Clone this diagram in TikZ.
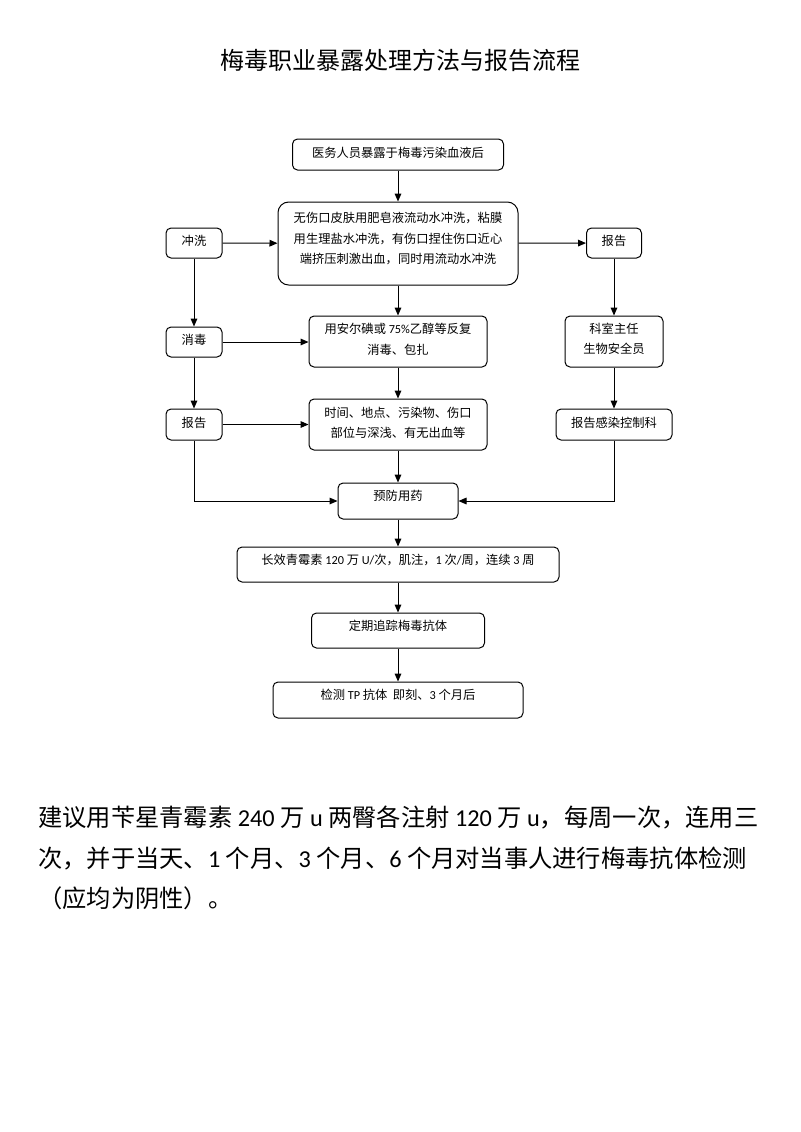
\documentclass[tikz,border=0pt]{standalone}
\usepackage{fontspec}
\setmainfont{Noto Sans CJK SC}
\newfontfamily\lat{Carlito}
\usetikzlibrary{arrows.meta}
\begin{document}
\begin{tikzpicture}[x=0.75pt,y=-0.75pt,
  bx/.style={draw, line width=0.75pt, rounded corners=3.75pt, inner sep=0pt},
  tx/.style={font=\fontsize{9.2}{15.4}\selectfont, align=center, inner sep=0pt},
  para/.style={font=\fontsize{18.2}{24}\selectfont, anchor=west, inner sep=0pt},
  arr/.style={-{Triangle[length=6pt,width=5pt]}, line width=0.75pt}]
\useasboundingbox (0,0) rectangle (800,1132);
\fill[white] (0,0) rectangle (800,1132);

% title
\node[font=\fontsize{18}{21}\selectfont, inner sep=0pt] (title) at (400,60) {梅毒职业暴露处理方法与报告流程};

% boxes
\node[bx, minimum width=158.25pt, minimum height=23.25pt] (top) at (398,154.5) {};
\node[tx] at (398,152.5) {医务人员暴露于梅毒污染血液后};

\node[bx, rounded corners=8pt, minimum width=180pt, minimum height=62.25pt] (big) at (398,243.5) {};
\node[tx] at (398,238.5) {无伤口皮肤用肥皂液流动水冲洗，粘膜\\用生理盐水冲洗，有伤口捏住伤口近心\\端挤压刺激出血，同时用流动水冲洗};

\node[bx, minimum width=42pt, minimum height=22.5pt] (chong) at (194,243) {};
\node[tx] at (194,241) {冲洗};

\node[bx, minimum width=41.25pt, minimum height=22.5pt] (bgR) at (614,243) {};
\node[tx] at (614,241) {报告};

\node[bx, minimum width=42pt, minimum height=22.5pt] (xiaodu) at (194,342) {};
\node[tx] at (194,340) {消毒};

\node[bx, minimum width=133.5pt, minimum height=38.25pt] (yong) at (398,341.5) {};
\node[tx] at (398,339.5) {用安尔碘或 {\lat 75\%}乙醇等反复\\消毒、包扎};

\node[bx, minimum width=73.5pt, minimum height=38.25pt] (keshi) at (614,341.5) {};
\node[tx] at (614,339) {科室主任\\生物安全员};

\node[bx, minimum width=42pt, minimum height=23.25pt] (bgL) at (194,424.5) {};
\node[tx] at (194,422.5) {报告};

\node[bx, minimum width=133.5pt, minimum height=38.25pt] (shijian) at (398,424.5) {};
\node[tx] at (398,423) {时间、地点、污染物、伤口\\部位与深浅、有无出血等};

\node[bx, minimum width=87pt, minimum height=23.25pt] (ganran) at (614,424.5) {};
\node[tx] at (614,422.5) {报告感染控制科};

\node[bx, minimum width=90pt, minimum height=27pt] (yufang) at (398,501) {};
\node[tx] at (398,495.5) {预防用药};

\node[bx, minimum width=241.5pt, minimum height=26.25pt] (changxiao) at (398,564.5) {};
\node[tx] at (398,560) {长效青霉素 {\lat 120} 万 {\lat U/}次，肌注，{\lat 1} 次{\lat /}周，连续 {\lat 3} 周};

\node[bx, minimum width=129.75pt, minimum height=26.25pt] (dingqi) at (398,630.5) {};
\node[tx] at (398,626) {定期追踪梅毒抗体};

\node[bx, minimum width=187.5pt, minimum height=27pt] (jiance) at (398,700) {};
\node[tx] at (398,694.5) {检测 {\lat TP} 抗体 \ 即刻、{\lat 3} 个月后};

% connectors
\draw[arr] (top) -- (big);
\draw[arr] (chong) -- (big);
\draw[arr] (big) -- (bgR);
\draw[arr] (chong) -- (xiaodu);
\draw[arr] (xiaodu) -- (bgL);
\draw[arr] (big) -- (yong);
\draw[arr] (xiaodu) -- (xiaodu -| yong.west);
\draw[arr] (yong) -- (shijian);
\draw[arr] (bgL) -- (bgL -| shijian.west);
\draw[arr] (shijian) -- (yufang);
\draw[arr] (bgL.south) |- (yufang.west);
\draw[arr] (bgR) -- (keshi);
\draw[arr] (keshi) -- (ganran);
\draw[arr] (ganran.south) |- (yufang.east);
\draw[arr] (yufang) -- (changxiao);
\draw[arr] (changxiao) -- (dingqi);
\draw[arr] (dingqi) -- (jiance);

% paragraph
\node[para] (p1) at (38,817) {建议用苄星青霉素{\lat\ 240 }万{\lat\ u }两臀各注射{\lat\ 120 }万{\lat\ u}，每周一次，连用三};
\node[para] (p2) at (38,858) {次，并于当天、{\lat 1 }个月、{\lat 3 }个月、{\lat 6 }个月对当事人进行梅毒抗体检测};
\node[para] (p3) at (38,898) {（应均为阴性）。};
\end{tikzpicture}
\end{document}
